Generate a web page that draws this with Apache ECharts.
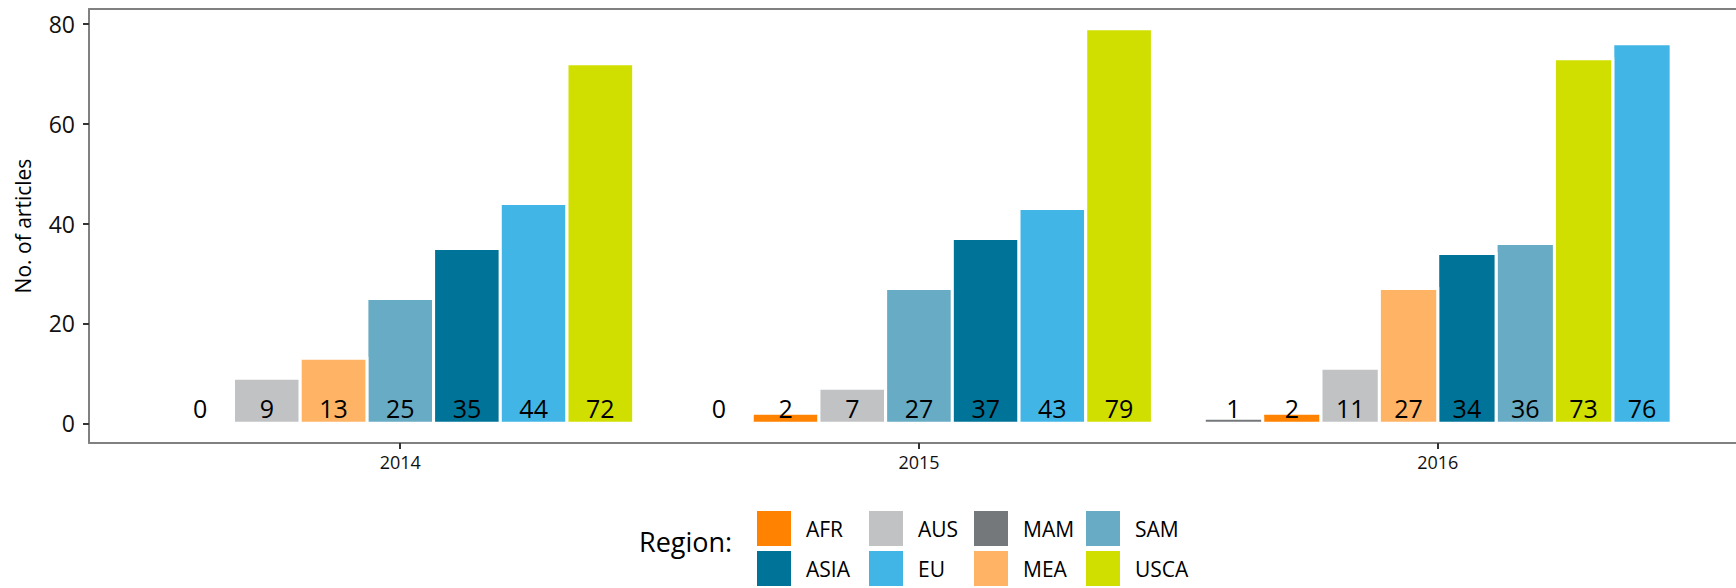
<!DOCTYPE html>
<html>
<head>
<meta charset="utf-8">
<script src="https://cdn.jsdelivr.net/npm/echarts@6/dist/echarts.min.js"></script>
<style>
html, body { margin: 0; padding: 0; background: #fff; }
#chart { width: 1736px; height: 588px; }
</style>
</head>
<body>
<div id="chart"></div>
<script>
// years and regions
var years = ['2014', '2015', '2016'];
var regions = ['AFR', 'AUS', 'MAM', 'SAM', 'ASIA', 'EU', 'MEA', 'USCA'];
var regionColors = ['#FF8200', '#C1C2C4', '#75787B', '#68ABC4', '#007398', '#41B6E6', '#FFB364', '#D0DF00'];

// no. of articles per region, one value per year (null = no bar that year)
var AFR  = [0, 2, 2];
var AUS  = [9, 7, 11];
var MAM  = [null, 0, 1];
var SAM  = [25, 27, 36];
var ASIA = [35, 37, 34];
var EU   = [44, 43, 76];
var MEA  = [13, null, 27];
var USCA = [72, 79, 73];

var yTicks = [0, 20, 40, 60, 80];
var labelY = 3;   // the value labels sit at y = 3

var FONT = 'Open Sans';
var BORDER = '#808080';

function initChart(div_id) {
    var myChart = echarts.init(document.getElementById(div_id), null, {renderer: 'svg'});
    myChart.setOption(buildOption());
}

// dodge the bars: in every year sort by value, 0.9 wide group split by n
function buildData() {
    var table = {AFR: AFR, AUS: AUS, MAM: MAM, SAM: SAM, ASIA: ASIA, EU: EU, MEA: MEA, USCA: USCA};
    var out = {};
    regions.forEach(function (r) { out[r] = []; });
    years.forEach(function (y, yi) {
        var list = [];
        regions.forEach(function (r) {
            if (table[r][yi] != null) list.push({r: r, v: table[r][yi]});
        });
        list.sort(function (a, b) { return a.v - b.v; });
        var n = list.length;
        var w = 0.9 / n;
        list.forEach(function (it, i) {
            out[it.r].push([yi + 1 + (i - (n - 1) / 2) * w, it.v, w]);
        });
    });
    return out;
}

function renderBar(params, api) {
    var x = api.value(0), v = api.value(1), w = api.value(2);
    var p0 = api.coord([x - w / 2, 0]);
    var p1 = api.coord([x + w / 2, v]);
    var pt = api.coord([x, labelY]);
    return {
        type: 'group',
        children: [
            {
                type: 'rect',
                shape: {x: p0[0], y: p1[1], width: p1[0] - p0[0], height: p0[1] - p1[1]},
                style: {fill: api.visual('color'), stroke: '#fff', lineWidth: 3}
            },
            {
                type: 'text',
                x: pt[0],
                y: pt[1],
                style: {
                    text: String(v),
                    fill: '#000',
                    font: '25px "' + FONT + '"',
                    align: 'center',
                    verticalAlign: 'middle'
                }
            }
        ]
    };
}

function buildOption() {
    var data = buildData();
    var series = regions.map(function (r, i) {
        return {
            name: r,
            type: 'custom',
            renderItem: renderBar,
            itemStyle: {color: regionColors[i]},
            encode: {x: 0, y: 1},
            data: data[r]
        };
    });

    // legend in 4 columns of 2
    var legendCols = [['AFR', 'ASIA'], ['AUS', 'EU'], ['MAM', 'MEA'], ['SAM', 'USCA']];
    var legendLeft = [757, 869, 974, 1086];
    var legends = legendCols.map(function (col, i) {
        return {
            data: col,
            orient: 'vertical',
            left: legendLeft[i],
            top: 511,
            padding: 0,
            itemWidth: 34,
            itemHeight: 35,
            itemGap: 5,
            icon: 'rect',
            selectedMode: false,
            textStyle: {fontSize: 21, color: '#000', fontFamily: FONT, padding: [0, 0, 0, 10]}
        };
    });

    // the panel runs on past the right edge of the picture, so no right border
    return {
        backgroundColor: '#fff',
        animation: false,
        grid: {left: 89, top: 9, right: 0, bottom: 145},
        xAxis: [{
            type: 'value',
            min: 0.4,
            max: 3.575,
            axisLine: {show: true, onZero: false, lineStyle: {color: BORDER, width: 2}},
            axisTick: {show: true, length: 6, customValues: [1, 2, 3], lineStyle: {color: '#333', width: 2}},
            axisLabel: {
                customValues: [1, 2, 3],
                margin: 10,
                fontSize: 18,
                color: '#111',
                fontFamily: FONT,
                formatter: function (v) { return years[Math.round(v) - 1]; }
            },
            splitLine: {show: false}
        }, {
            // top border only
            type: 'value',
            position: 'top',
            min: 0.4,
            max: 3.575,
            axisLine: {show: true, onZero: false, lineStyle: {color: BORDER, width: 2}},
            axisTick: {show: false},
            axisLabel: {show: false},
            splitLine: {show: false}
        }],
        yAxis: {
            type: 'value',
            min: -3.95,
            max: 82.95,
            name: 'No. of articles',
            nameLocation: 'middle',
            nameRotate: 90,
            nameGap: 56,
            nameTextStyle: {fontSize: 21, color: '#000', fontFamily: FONT},
            axisLine: {show: true, onZero: false, lineStyle: {color: BORDER, width: 2}},
            axisTick: {show: true, length: 6, customValues: yTicks, lineStyle: {color: '#333', width: 2}},
            axisLabel: {customValues: yTicks, margin: 14, fontSize: 23, color: '#111', fontFamily: FONT},
            splitLine: {show: false}
        },
        legend: legends,
        graphic: [{
            type: 'text',
            left: 639,
            top: 528,
            style: {text: 'Region:', font: '27px "' + FONT + '"', fill: '#000'}
        }],
        series: series
    };
}

initChart('chart');
</script>
</body>
</html>
